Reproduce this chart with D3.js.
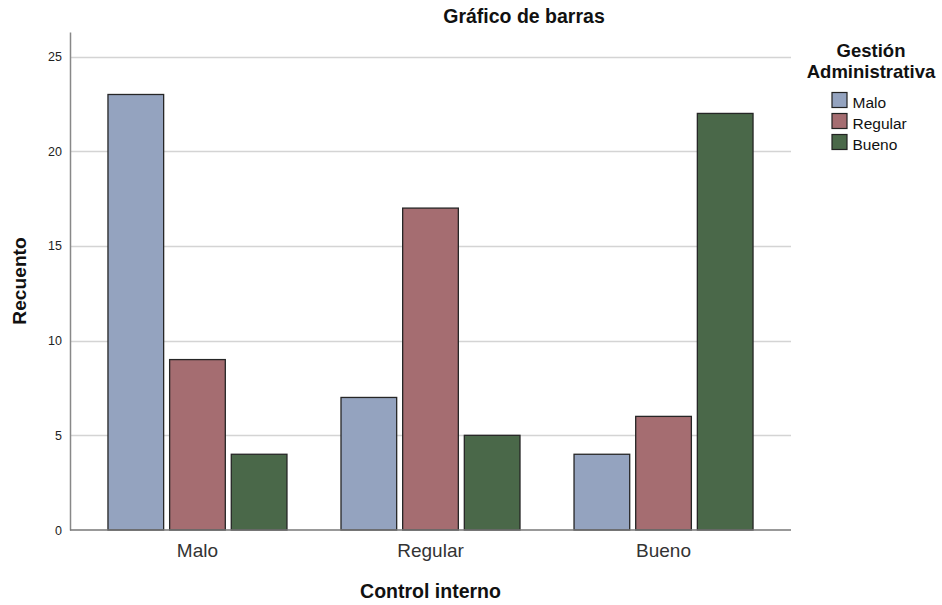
<!DOCTYPE html>
<html>
<head>
<meta charset="utf-8">
<script src="https://cdn.jsdelivr.net/npm/d3@7"></script>
<style>
  body { margin: 0; background: #fff; }
  svg { display: block; font-family: "Liberation Sans", Arial, sans-serif; }
</style>
</head>
<body>
<svg id="chart" width="942" height="605"></svg>
<script>
// Control interno (x groups) by Gestión Administrativa (series)
const categories = ["Malo", "Regular", "Bueno"];
const series = ["Malo", "Regular", "Bueno"];
const countsMalo = [23, 7, 4];
const countsRegular = [9, 17, 6];
const countsBueno = [4, 5, 22];
const yTicks = [0, 5, 10, 15, 20, 25];
const colors = ["#94a3bf", "#a56d71", "#4a6849"];

const seriesValues = [countsMalo, countsRegular, countsBueno];

const svg = d3.select("#chart");
const plotLeft = 70, plotRight = 791, plotTop = 32, plotBottom = 530;

const x0 = d3.scaleBand().domain(categories).range([plotLeft, plotRight])
  .paddingInner(0).paddingOuter(0.047);
const groupW = 179;
const x1 = d3.scaleBand().domain(series).range([0, groupW]).paddingInner(0.097);
const y = d3.scaleLinear().domain([0, 26.3]).range([plotBottom, plotTop]);

// gridlines
svg.append("g").selectAll("line").data(yTicks.filter(d => d > 0)).join("line")
  .attr("x1", plotLeft).attr("x2", plotRight)
  .attr("y1", d => Math.round(y(d)) + 0.5).attr("y2", d => Math.round(y(d)) + 0.5)
  .attr("stroke", "#d4d4d4").attr("stroke-width", 1.5);

// y axis
const yAxis = svg.append("g").attr("transform", `translate(${plotLeft},0)`)
  .call(d3.axisLeft(y).tickValues(yTicks).tickSize(0).tickPadding(8));
yAxis.select(".domain").attr("stroke", "#888").attr("stroke-width", 1.5);
yAxis.selectAll("text").attr("font-size", 12.5).attr("fill", "#222")
  .attr("font-family", "Liberation Sans, Arial, sans-serif");

// bars
const groups = svg.append("g").selectAll("g").data(categories).join("g")
  .attr("transform", c => `translate(${x0(c) + x0.bandwidth() / 2 - groupW / 2},0)`);
groups.selectAll("rect")
  .data((c, ci) => series.map((s, si) => ({ s, si, v: seriesValues[si][ci] })))
  .join("rect")
  .attr("x", d => x1(d.s))
  .attr("width", x1.bandwidth())
  .attr("y", d => y(d.v))
  .attr("height", d => y(0) - y(d.v))
  .attr("fill", d => colors[d.si])
  .attr("stroke", "#262626").attr("stroke-width", 1.3);

// x axis
const xAxis = svg.append("g").attr("transform", `translate(0,${plotBottom})`)
  .call(d3.axisBottom(x0).tickSize(0));
xAxis.select(".domain").attr("stroke", "#777").attr("stroke-width", 1.5)
  .attr("d", `M${plotLeft},0H${plotRight}`);
xAxis.selectAll("text").attr("font-size", 19).attr("fill", "#333")
  .attr("y", 27).attr("dy", null)
  .attr("font-family", "Liberation Sans, Arial, sans-serif");

// titles
svg.append("text").attr("x", 524).attr("y", 22.5).attr("text-anchor", "middle")
  .attr("font-size", 19.5).attr("font-weight", "bold").attr("fill", "#111")
  .text("Gráfico de barras");
svg.append("text").attr("x", 430.5).attr("y", 598).attr("text-anchor", "middle")
  .attr("font-size", 19.5).attr("font-weight", "bold").attr("fill", "#111")
  .text("Control interno");
svg.append("text").attr("transform", "translate(26,281) rotate(-90)")
  .attr("text-anchor", "middle")
  .attr("font-size", 19.2).attr("font-weight", "bold").attr("fill", "#111")
  .text("Recuento");

// legend
const lg = svg.append("g");
lg.append("text").attr("x", 871).attr("y", 56.5).attr("text-anchor", "middle")
  .attr("font-size", 18.5).attr("font-weight", "bold").attr("fill", "#111").text("Gestión");
lg.append("text").attr("x", 871).attr("y", 77.5).attr("text-anchor", "middle")
  .attr("font-size", 18.5).attr("font-weight", "bold").attr("fill", "#111").text("Administrativa");
const items = lg.selectAll("g.item").data(series).join("g").attr("class", "item")
  .attr("transform", (d, i) => `translate(832,${92.5 + i * 21})`);
items.append("rect").attr("width", 15).attr("height", 15)
  .attr("fill", (d, i) => colors[i]).attr("stroke", "#222").attr("stroke-width", 1.2);
items.append("text").attr("x", 20.5).attr("y", 15).attr("font-size", 15.5)
  .attr("fill", "#111").text(d => d);
</script>
</body>
</html>
